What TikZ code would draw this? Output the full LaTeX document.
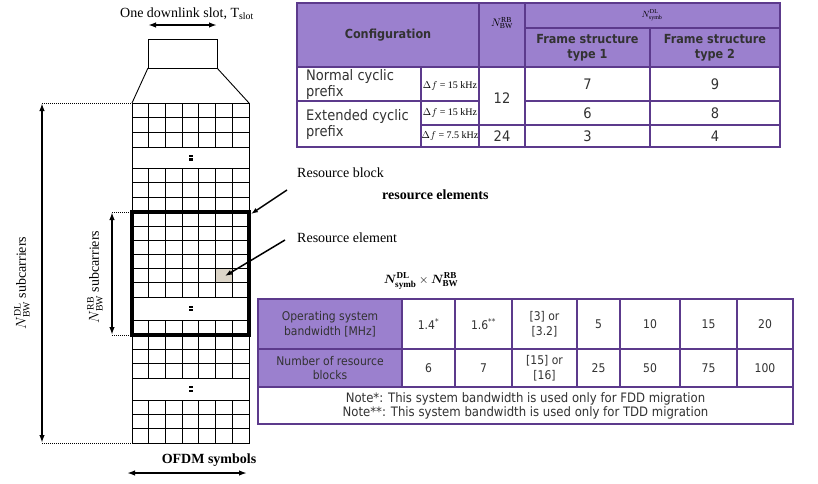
\documentclass[tikz,border=0pt]{standalone}
\usepackage{amsmath}
\usepackage{bm}
\usepackage{fontspec}
\setmainfont{Liberation Serif}
\newfontfamily\tabfont{DejaVu Sans Condensed}
\usetikzlibrary{arrows.meta}
\definecolor{pborder}{RGB}{92,58,140}
\definecolor{pfill}{RGB}{155,128,206}
\definecolor{ttext}{RGB}{50,50,50}
\definecolor{reshade}{RGB}{220,213,200}
\tikzset{
  gridline/.style={line width=0.9pt},
  thickbox/.style={line width=4.5pt},
  dimarrow/.style={line width=1.6pt, {Latex[length=8pt,width=5.5pt]}-{Latex[length=8pt,width=5.5pt]}},
  ptrarrow/.style={line width=1.5pt, -{Latex[length=7pt,width=5pt]}},
  dotline/.style={line width=0.8pt, dash pattern=on 1pt off 1pt},
  serlab/.style={font=\fontsize{14}{16}\selectfont, inner sep=0pt},
  serbold/.style={font=\bfseries\fontsize{14}{16}\selectfont, inner sep=0pt},
  tabborder/.style={draw=pborder, line width=2.6pt},
  tabtext/.style={font=\tabfont\fontsize{12}{14.5}\selectfont, text=ttext, align=center, inner sep=0pt},
  toptext/.style={font=\tabfont\fontsize{14.5}{16}\selectfont, text=ttext, align=center, inner sep=0pt},
  tabhead/.style={font=\tabfont\bfseries\fontsize{12.5}{15}\selectfont, text=ttext, align=center, inner sep=0pt},
  notetext/.style={font=\tabfont\fontsize{13}{14}\selectfont, text=ttext, align=center, inner sep=0pt},
  dfstyle/.style={font=\fontsize{10}{11}\selectfont, inner sep=0pt},
  dotmark/.style={fill=black},
}
\newcommand\tcell[6]{\draw[tabborder, fill=#6] (#2,#3) rectangle (#4,#5);}
\begin{document}
\begin{tikzpicture}[x=1pt,y=-1pt]
\useasboundingbox (0,0) rectangle (818,483);

% ---------- resource grid ----------
\fill[reshade] (216,268.8) rectangle (233,283);
\foreach \ya/\yb/\nr in {103/147.5/3, 168/212/3, 212/297/6, 320/335/1, 335/378/3, 400/443/3} {
  \foreach \k in {1,...,6} {
    \draw[gridline] ({132+\k*117/7},\ya) -- ({132+\k*117/7},\yb);
  }
  \foreach \i in {0,...,\nr} {
    \draw[gridline] (132,{\ya+\i*(\yb-\ya)/\nr}) -- (249,{\ya+\i*(\yb-\ya)/\nr});
  }
}
\draw[gridline] (132,103) rectangle (249,443);
\foreach \yc in {157.75,308.5,389} {
  \fill[dotmark] (189,{\yc-2.8}) rectangle (192.5,{\yc-0.6});
  \fill[dotmark] (189,{\yc+0.6}) rectangle (192.5,{\yc+2.8});
}
\draw[thickbox] (132,212) rectangle (249,335);

% slot box and trapezoid
\draw[gridline] (148,39) rectangle (217,68);
\draw[gridline] (148,68) -- (132,103);
\draw[gridline] (217,68) -- (249,103);

% coordinates for connectors
\coordinate (slotL) at (148,25);
\coordinate (slotR) at (217,25);
\coordinate (dlTop) at (42,103);
\coordinate (dlBot) at (42,443);
\coordinate (gTop) at (132,103);
\coordinate (gBot) at (132,443);
\coordinate (rbTop) at (112,212);
\coordinate (rbBot) at (112,335);
\coordinate (rbTopG) at (132,212);
\coordinate (rbBotG) at (132,335);
\coordinate (ofL) at (127,473);
\coordinate (ofR) at (247,473);
\coordinate (rbCorner) at (251,214);
\coordinate (reCell) at (225,276);
\coordinate (rbFrom) at (287,190);
\coordinate (reFrom) at (285,240);

\draw[dimarrow] (slotL) -- (slotR);
\node[serlab] (slotlab) at (187,14) {One downlink slot, T\textsubscript{slot}};

\draw[dimarrow] (dlTop) -- (dlBot);
\draw[dotline] (dlTop) -- (gTop);
\draw[dotline] (dlBot) -- (gBot);
\node[serlab, rotate=90] (ndl) at (22,283) {$N_{\mathrm{BW}}^{\mathrm{DL}}$ subcarriers};

\draw[dimarrow] (rbTop) -- (rbBot);
\draw[dotline] (rbTop) -- (rbTopG);
\draw[dotline] (rbBot) -- (rbBotG);
\node[serlab, rotate=90] (nrb) at (95,277) {$N_{\mathrm{BW}}^{\mathrm{RB}}$ subcarriers};

\node[serbold] (ofdm) at (209,460) {OFDM symbols};
\draw[dimarrow] (ofL) -- (ofR);

\node[serlab, anchor=west] (rblab) at (297,173) {Resource block};
\draw[ptrarrow] (rbFrom) -- (rbCorner);
\node[serbold, anchor=west] (relems) at (382,195) {resource elements};
\node[serlab, anchor=west] (relab) at (297,238) {Resource element};
\draw[ptrarrow] (reFrom) -- (reCell);

\node[font=\fontsize{13}{15}\selectfont, inner sep=0pt] (formula) at (421,281)
  {$\bm{N}^{\mathbf{DL}}_{\mathbf{symb}}\times\bm{N}^{\mathbf{RB}}_{\mathbf{BW}}$};

% ---------- top table ----------
\tcell{c1}{297}{3}{479}{67}{pfill}
\tcell{c2}{479}{3}{525}{67}{pfill}
\tcell{c3}{525}{3}{780}{28}{pfill}
\tcell{c4}{525}{28}{650}{67}{pfill}
\tcell{c5}{650}{28}{780}{67}{pfill}
\tcell{c6}{297}{67}{421}{101}{white}
\tcell{c7}{421}{67}{479}{101}{white}
\tcell{c8}{479}{67}{525}{125}{white}
\tcell{c9}{525}{67}{650}{101}{white}
\tcell{c10}{650}{67}{780}{101}{white}
\tcell{c11}{297}{101}{421}{147}{white}
\tcell{c12}{421}{101}{479}{125}{white}
\tcell{c13}{525}{101}{650}{125}{white}
\tcell{c14}{650}{101}{780}{125}{white}
\tcell{c15}{421}{125}{479}{147}{white}
\tcell{c16}{479}{125}{525}{147}{white}
\tcell{c17}{525}{125}{650}{147}{white}
\tcell{c18}{650}{125}{780}{147}{white}

\node[tabhead] (tcfg) at (388,35) {Configuration};
\node[font=\fontsize{11}{12}\selectfont, inner sep=0pt] (tnrb) at (502,23) {$N_{\mathrm{BW}}^{\mathrm{RB}}$};
\node[font=\fontsize{9}{10}\selectfont, inner sep=0pt] (tnsym) at (652,15) {$N_{\mathrm{symb}}^{\mathrm{DL}}$};
\node[tabhead] (tf1) at (587.5,47.5) {Frame structure\\type 1};
\node[tabhead] (tf2) at (715,47.5) {Frame structure\\type 2};
\node[toptext, align=left, anchor=west] (tnorm) at (306,84) {Normal cyclic\\prefix};
\node[dfstyle] (tdf1) at (450,86) {$\Delta f$ = 15 kHz};
\node[toptext] (t12) at (502,98) {12};
\node[toptext] (t7) at (587.5,84) {7};
\node[toptext] (t9) at (715,84) {9};
\node[toptext, align=left, anchor=west] (text) at (306,124) {Extended cyclic\\prefix};
\node[dfstyle] (tdf2) at (450,113) {$\Delta f$ = 15 kHz};
\node[toptext] (t6) at (587.5,113) {6};
\node[toptext] (t8) at (715,113) {8};
\node[dfstyle] (tdf3) at (450,136) {$\Delta f$ = 7.5 kHz};
\node[toptext] (t24) at (502,136) {24};
\node[toptext] (t3) at (587.5,136) {3};
\node[toptext] (t4) at (715,136) {4};

% ---------- bottom table ----------
\tcell{b11}{258}{299}{402}{349}{pfill}
\tcell{b12}{402}{299}{455}{349}{white}
\tcell{b13}{455}{299}{512}{349}{white}
\tcell{b14}{512}{299}{577}{349}{white}
\tcell{b15}{577}{299}{620}{349}{white}
\tcell{b16}{620}{299}{680}{349}{white}
\tcell{b17}{680}{299}{737}{349}{white}
\tcell{b18}{737}{299}{793}{349}{white}
\tcell{b21}{258}{349}{402}{387}{pfill}
\tcell{b22}{402}{349}{455}{387}{white}
\tcell{b23}{455}{349}{512}{387}{white}
\tcell{b24}{512}{349}{577}{387}{white}
\tcell{b25}{577}{349}{620}{387}{white}
\tcell{b26}{620}{349}{680}{387}{white}
\tcell{b27}{680}{349}{737}{387}{white}
\tcell{b28}{737}{349}{793}{387}{white}
\tcell{b31}{258}{387}{793}{424}{white}

\node[tabtext] (bo) at (330,324) {Operating system\\bandwidth [MHz]};
\node[tabtext] (bv1) at (428.5,324) {1.4\textsuperscript{*}};
\node[tabtext] (bv2) at (483.5,324) {1.6\textsuperscript{**}};
\node[tabtext] (bv3) at (544.5,324) {[3] or\\{}[3.2]};
\node[tabtext] (bv4) at (598.5,324) {5};
\node[tabtext] (bv5) at (650,324) {10};
\node[tabtext] (bv6) at (708.5,324) {15};
\node[tabtext] (bv7) at (765,324) {20};
\node[tabtext] (bn) at (330,368) {Number of resource\\blocks};
\node[tabtext] (bn1) at (428.5,368) {6};
\node[tabtext] (bn2) at (483.5,368) {7};
\node[tabtext] (bn3) at (544.5,368) {[15] or\\{}[16]};
\node[tabtext] (bn4) at (598.5,368) {25};
\node[tabtext] (bn5) at (650,368) {50};
\node[tabtext] (bn6) at (708.5,368) {75};
\node[tabtext] (bn7) at (765,368) {100};
\node[notetext] (bnote) at (525.5,405.5) {Note*: This system bandwidth is used only for FDD migration\\Note**: This system bandwidth is used only for TDD migration};
\end{tikzpicture}
\end{document}
